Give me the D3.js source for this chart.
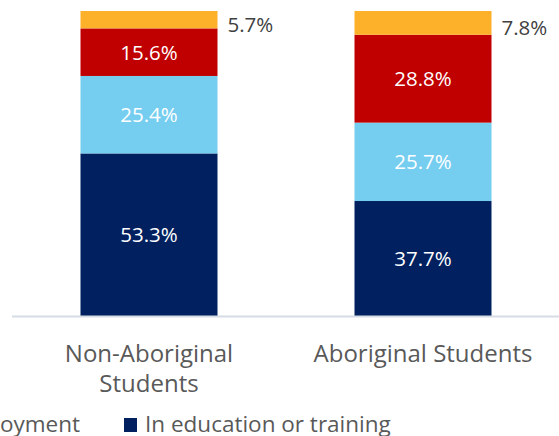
<!DOCTYPE html>
<html><head><meta charset="utf-8">
<script src="https://cdn.jsdelivr.net/npm/d3@7"></script>
<style>body{margin:0;background:#fff;} svg{display:block;}</style>
</head><body>
<svg id="c" width="559" height="436"></svg>
<script>
const categories = ["Non-Aboriginal Students", "Aboriginal Students"];
const categoryLines = [["Non-Aboriginal", "Students"], ["Aboriginal Students"]];
const seriesNames = ["In education or training", "In employment", "Looking for work", "Not in the labour force"];
const educationTraining = [53.3, 37.7];
const employment = [25.4, 25.7];
const lookingForWork = [15.6, 28.8];
const notInLabourForce = [5.7, 7.8];
const seriesColors = ["#002060", "#75CDF0", "#C00000", "#FDB02A"];

(function () {
const seriesValues = [educationTraining, employment, lookingForWork, notInLabourForce];
const svg = d3.select("#c");
const font = "'Open Sans', sans-serif";
const plotTop = 11, base = 316;

const x = d3.scaleBand().domain(categories).range([12, 560]).paddingInner(0.5).paddingOuter(0.25);
const y = d3.scaleLinear().domain([0, 100]).range([base, plotTop]);

const rows = categories.map((c, i) => {
  const o = {cat: c};
  seriesNames.forEach((s, j) => o[s] = seriesValues[j][i]);
  return o;
});
const stacked = d3.stack().keys(seriesNames)(rows);

stacked.forEach((layer, j) => {
  svg.append("g").selectAll("rect").data(layer).join("rect")
    .attr("x", d => x(d.data.cat))
    .attr("width", x.bandwidth())
    .attr("y", d => y(d[1]))
    .attr("height", d => y(d[0]) - y(d[1]))
    .attr("fill", seriesColors[j]);
});

stacked.forEach((layer, j) => {
  const outside = j === seriesNames.length - 1;
  svg.append("g").selectAll("text").data(layer).join("text")
    .attr("x", d => outside ? x(d.data.cat) + x.bandwidth() + 10 : x(d.data.cat) + x.bandwidth() / 2)
    .attr("y", d => (y(d[0]) + y(d[1])) / 2 + (outside ? 12.5 : 7.5))
    .attr("text-anchor", outside ? "start" : "middle")
    .attr("fill", outside ? "#404040" : "#ffffff")
    .style("font-family", font).style("font-size", "20.5px")
    .text(d => (d[1] - d[0]).toFixed(1) + "%");
});

svg.append("line").attr("x1", 12).attr("x2", 559).attr("y1", base + 0.5).attr("y2", base + 0.5)
  .attr("stroke", "#D6DCE4").attr("stroke-width", 2);

categories.forEach((c, i) => {
  const cx = x(c) + x.bandwidth() / 2;
  const t = svg.append("text")
    .attr("x", cx).attr("y", 362)
    .attr("text-anchor", "middle").attr("fill", "#595959")
    .style("font-family", font).style("font-size", "24px");
  categoryLines[i].forEach((l, k) => t.append("tspan").attr("x", cx).attr("dy", k ? 30 : 0).text(l));
});

const lg = svg.append("g");
const legendSize = "22.5px";
const itemX = {0: 124};
const tmp = svg.append("text").style("font-family", font).style("font-size", legendSize);
let cur = 124;
[1, 2, 3].forEach(j => {
  tmp.text(seriesNames[j]);
  const w = tmp.node().getComputedTextLength();
  cur = cur - 44 - w - 21;
  itemX[j] = cur;
});
tmp.remove();
[3, 2, 1, 0].forEach(j => {
  lg.append("rect").attr("x", itemX[j]).attr("y", 418).attr("width", 13).attr("height", 14).attr("fill", seriesColors[j]);
  lg.append("text").attr("x", itemX[j] + 21).attr("y", 432).attr("fill", "#595959")
    .style("font-family", font).style("font-size", legendSize).text(seriesNames[j]);
});
})();
</script>
</body></html>
